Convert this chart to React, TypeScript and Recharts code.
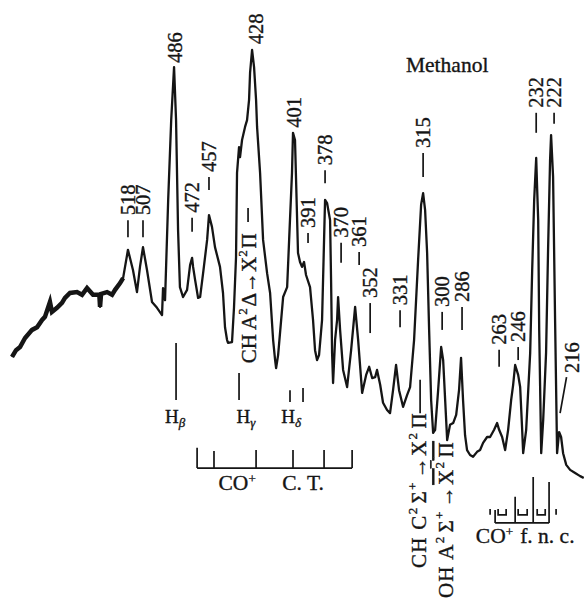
import React from "react"
import { ComposedChart, Line, Scatter, XAxis, YAxis } from "recharts"

const FONT = '"Liberation Serif", "Times New Roman", Times, serif'
const INK = "#151515"
// print on the original is heavy; a hairline outline thickens the glyphs a little
const TEXT_WEIGHT = { stroke: INK, strokeWidth: 0.35 }

// scan of the methanol flame: wavelength (nm, falling to the right) vs relative intensity
const scanNm = [
  599.6, 596.8, 594.0, 590.5, 585.6, 582.1, 578.6, 576.6, 573.1, 571.7, 568.2, 564.7, 562.6,
  559.1, 554.2, 550.7, 547.2, 543.0, 538.6, 538.1, 537.4, 533.2, 529.7, 527.6, 524.1, 522.0,
  518.6, 515.1, 512.3, 510.2, 508.1, 505.3, 501.8, 498.3, 494.8, 494.1, 492.7, 490.5, 488.4,
  486.4, 485.0, 483.6, 482.3, 480.1, 477.3, 475.2, 473.8, 473.1, 471.7, 469.6, 468.2, 466.1,
  463.3, 462.0, 459.9, 457.8, 454.3, 452.2, 450.8, 449.4, 448.7, 445.9, 444.5, 443.1, 442.4,
  441.0, 440.3, 438.9, 436.8, 435.4, 434.0, 433.3, 431.9, 430.5, 429.1, 428.4, 426.3, 424.2,
  421.4, 419.3, 417.2, 415.8, 415.1, 413.7, 410.2, 407.4, 406.0, 404.0, 403.3, 401.9, 399.8,
  398.4, 397.0, 395.6, 394.2, 391.4, 389.3, 387.9, 386.5, 385.1, 383.0, 381.6, 380.9, 379.5,
  377.4, 376.7, 376.0, 375.3, 373.9, 372.5, 371.8, 370.4, 368.3, 365.5, 362.7, 359.9, 357.8,
  355.0, 352.2, 350.1, 348.0, 345.9, 344.6, 342.4, 340.4, 337.6, 335.5, 333.4, 331.3, 329.2,
  326.4, 323.6, 321.5, 318.7, 315.9, 313.8, 312.4, 311.0, 309.6, 308.2, 306.8, 305.4, 304.0,
  301.9, 299.8, 298.4, 297.0, 295.6, 293.6, 291.4, 289.3, 287.3, 285.9, 284.5, 283.1, 281.7,
  279.6, 277.5, 274.7, 272.6, 270.5, 267.7, 265.6, 262.8, 260.7, 259.3, 257.2, 255.1, 253.0,
  250.9, 249.5, 248.1, 246.0, 244.6, 243.2, 242.5, 240.4, 237.6, 236.2, 234.8, 233.4, 232.7,
  232.0, 231.3, 229.9, 228.5, 226.5, 225.1, 223.7, 223.0, 221.6, 220.2, 218.8, 217.4, 216.0,
  214.6, 212.4, 209.7, 206.2, 202.7, 200.2,
]
const scanSignal = [
  31.8, 33.3, 34.0, 36.0, 37.8, 38.4, 40.0, 40.7, 44.0, 41.8, 42.7, 43.8, 44.9,
  46.0, 46.2, 45.6, 47.1, 45.6, 45.6, 42.9, 45.8, 46.2, 45.6, 46.7, 48.2, 49.3,
  55.6, 51.1, 46.2, 51.8, 56.2, 51.1, 44.0, 42.7, 41.1, 47.1, 44.4, 66.7, 84.4,
  96.2, 84.4, 60.0, 47.3, 45.1, 46.7, 52.2, 53.8, 51.8, 48.9, 44.9, 45.1, 50.4,
  57.8, 63.3, 60.7, 56.2, 51.8, 46.0, 38.4, 35.6, 34.9, 35.1, 42.9, 54.0, 72.7,
  78.4, 76.2, 80.0, 82.9, 84.4, 88.9, 94.9, 100.0, 96.2, 88.9, 82.9, 72.7, 57.8,
  50.4, 46.0, 35.6, 31.1, 29.3, 32.2, 45.1, 47.3, 57.8, 72.7, 81.6, 80.0, 54.9,
  52.9, 51.8, 52.9, 50.0, 47.3, 40.0, 33.3, 31.1, 32.2, 40.0, 57.8, 66.7, 66.0,
  62.2, 48.9, 32.7, 26.0, 35.6, 40.0, 45.1, 37.8, 28.9, 25.1, 33.3, 42.9, 35.6,
  23.8, 27.8, 29.6, 27.1, 27.3, 28.9, 25.6, 21.6, 20.0, 19.3, 24.4, 30.0, 24.4,
  20.7, 23.3, 25.1, 35.6, 53.3, 65.6, 68.2, 64.4, 54.9, 37.8, 22.2, 14.9, 15.6,
  24.4, 34.0, 31.1, 22.2, 13.3, 16.7, 17.1, 18.9, 24.4, 31.6, 22.2, 14.4, 11.1,
  10.0, 9.6, 10.7, 11.1, 12.7, 14.0, 14.0, 15.6, 17.1, 15.6, 14.0, 11.1, 15.6,
  22.2, 25.6, 30.0, 27.8, 25.1, 15.6, 10.4, 15.6, 32.7, 51.1, 66.7, 76.0, 68.9,
  62.2, 37.8, 10.4, 17.8, 32.7, 55.6, 75.6, 81.1, 71.8, 40.0, 10.4, 15.1, 14.0,
  10.4, 7.8, 6.7, 6.0, 5.3, 4.9,
]
// the noisy long-wavelength end is drawn heavier, as on the recorder trace
const NOISY_POINTS = 26

// band tags, read where they stand on the trace (foot = lower end of the tick)
const tagText = ["518", "507", "486", "472", "457", "428", "401", "391", "378", "370", "361",
  "352", "331", "315", "300", "286", "263", "246", "232", "222", "216"]
const tagNm = [518.6, 508.1, 485.7, 473.8, 462.0, 429.1, 402.9, 392.8, 380.9, 369.7, 357.1,
  349.4, 328.5, 312.4, 299.1, 285.2, 259.3, 246.0, 233.4, 220.9, 208.3]
const tagFoot = [58.4, 58.4, 97.1, 59.6, 68.9, 101.3, 82.7, 57.1, 70.4, 52.7, 52.2,
  37.1, 38.4, 71.8, 37.8, 37.8, 29.6, 31.1, 81.6, 83.6, 28.2]
// tick length under each number, px (0 = none)
const TAG_DASH = [17, 17, 0, 14, 13, 0, 0, 10, 13, 20, 13, 30, 17, 24, 18, 23, 17, 13, 20, 11, 0]
const TAG_GAP = 5

// Balmer lines
const balmerName = ["β", "γ", "δ"]
const balmerNm = [485.7, 436.1, 404.6]
const balmerTickNm = [485.0, 441.0, 405.4, 396.3]
const balmerTickTop = [34.9, 28.2, 24.4, 24.9]
const balmerTickFoot = [22.2, 22.2, 21.8, 21.8]
const BALMER_TEXT_AT = 17.1

// CO+ comet-tail and first negative band heads
const ctNm = [470.3, 458.5, 429.1, 403.3, 381.6, 362.0]
const ctTop = [11.6, 10.9, 11.1, 11.1, 11.1, 11.1]
const CT_BASE = 7.1
const fncNm = [262.1, 248.1, 235.5, 224.4]
const fncTop = [-2.2, 0.7, 5.1, 4.0]
const FNC_BASE = -5.1

type Pt = { wl: number; I: number | null }

// polylines joined into one series, broken by nulls
const paths = (list: [number, number][][]): Pt[] =>
  list.flatMap((pl) => [...pl.map(([wl, I]) => ({ wl, I })), { wl: pl[pl.length - 1][0], I: null }])

const scan: Pt[] = scanNm.map((wl, i) => ({ wl, I: scanSignal[i] }))
const noisy = scan.slice(0, NOISY_POINTS)

const tags = tagText.map((text, i) => ({ wl: tagNm[i], I: tagFoot[i], text, dash: TAG_DASH[i] }))

const leaders = paths([
  [[434.7, 64.9], [434.7, 61.8]],
  [[314.5, 26.7], [314.5, 19.3]],
  [[216.7, 19.3], [212.2, 27.3]],
  ...balmerTickNm.map((wl, i): [number, number][] => [[wl, balmerTickTop[i]], [wl, balmerTickFoot[i]]]),
])

const brackets = paths([
  [[ctNm[0], CT_BASE], [ctNm[ctNm.length - 1], CT_BASE]],
  ...ctNm.map((wl, i): [number, number][] => [[wl, CT_BASE], [wl, ctTop[i]]]),
  [[fncNm[0], FNC_BASE], [fncNm[fncNm.length - 1], FNC_BASE]],
  ...fncNm.map((wl, i): [number, number][] => [[wl, FNC_BASE], [wl, fncTop[i]]]),
  [[265.6, -2.0], [265.6, -3.3]],
  [[260.0, -2.0], [260.0, -3.3], [254.4, -3.3], [254.4, -2.0]],
  [[246.0, -2.0], [246.0, -3.3], [239.7, -3.3], [239.7, -2.0]],
  [[232.7, -2.0], [232.7, -3.3], [227.1, -3.3], [227.1, -2.0]],
  [[219.5, -2.0], [219.5, -3.3]],
])

const sup = (s: string) => (
  <>
    <tspan dy={-7} fontSize={13}>{s}</tspan>
    <tspan dy={7}>{"\u200a"}</tspan>
  </>
)

// labels set along the scales: horizontal captions and upright (rotated) transitions
const captions = [
  { wl: 295.6, I: 95.1, key: "title" },
  ...balmerName.map((n, i) => ({ wl: balmerNm[i], I: BALMER_TEXT_AT, key: "H" + n })),
  { wl: 441.7, I: 2.2, key: "co-ct" },
  { wl: 396.3, I: 2.2, key: "ct" },
  { wl: 241.1, I: -9.6, key: "fnc" },
]
const transitions = [
  { wl: 434.0, I: 30.4, key: "CH-A" },
  { wl: 315.2, I: -15.1, key: "CH-C" },
  { wl: 296.3, I: -21.8, key: "OH-A" },
]

function Caption(p: any) {
  const { cx, cy, payload } = p
  const k: string = payload.key
  const common = { x: cx, y: cy, fill: INK, fontFamily: FONT, textAnchor: "middle" as const, ...TEXT_WEIGHT }
  if (k === "title") return <text {...common} fontSize={21.5}>Methanol</text>
  if (k.startsWith("H"))
    return (
      <text {...common} fontSize={19}>
        H<tspan dy={4} fontSize={13} fontStyle="italic">{k.slice(1)}</tspan>
      </text>
    )
  if (k === "co-ct") return <text {...common} fontSize={21.5}>CO{sup("+")}</text>
  if (k === "ct") return <text {...common} fontSize={21.5}>C. T.</text>
  return (
    <text {...common} fontSize={21.5}>
      CO{sup("+")} f. n. c.
    </text>
  )
}

function Transition(p: any) {
  const { cx, cy, payload } = p
  const k: string = payload.key
  const props = {
    x: cx,
    y: cy,
    fill: INK,
    fontFamily: FONT,
    fontSize: 21,
    dominantBaseline: "central" as const,
    transform: `rotate(-90 ${cx} ${cy})`,
    ...TEXT_WEIGHT,
  }
  if (k === "CH-A")
    return (
      <text {...props}>
        CH A{sup("2")}Δ→X{sup("2")}Π
      </text>
    )
  if (k === "CH-C")
    return (
      <text {...props} letterSpacing={1.3}>
        CH C{sup("2")}Σ{sup("+")}→X{sup("2")}Π
      </text>
    )
  return (
    <text {...props} letterSpacing={1.3}>
      OH A{sup("2")}Σ{sup("+")}→<tspan style={{ textDecoration: "overline" }}>X{sup("2")}Π</tspan>
    </text>
  )
}

function Tag(p: any) {
  const { cx, cy, payload } = p
  const dash: number = payload.dash
  const ty = dash > 0 ? cy - dash - TAG_GAP : cy
  return (
    <g>
      {dash > 0 && <line x1={cx} x2={cx} y1={cy} y2={cy - dash} stroke={INK} strokeWidth={1.7} />}
      <text
        x={cx}
        y={ty}
        fill={INK}
        fontFamily={FONT}
        fontSize={20.5}
        dominantBaseline="central"
        transform={`rotate(-90 ${cx} ${ty})`}
        {...TEXT_WEIGHT}
      >
        {payload.text}
      </text>
    </g>
  )
}

export default function App() {
  return (
    <div style={{ position: "absolute", left: 0, top: 0, width: 584, height: 601, background: "#fff" }}>
      <ComposedChart width={584} height={601} margin={{ top: 5, right: 0, bottom: 2, left: 0 }}>
        <XAxis hide type="number" dataKey="wl" domain={[200, 608]} reversed />
        <YAxis hide type="number" domain={[-22, 110]} />
        <Line data={scan} dataKey="I" stroke={INK} strokeWidth={2.3} dot={false} activeDot={false}
          strokeLinejoin="round" isAnimationActive={false} />
        <Line data={noisy} dataKey="I" stroke={INK} strokeWidth={4.5} dot={false} activeDot={false}
          isAnimationActive={false} />
        <Line data={leaders} dataKey="I" stroke={INK} strokeWidth={1.7} dot={false} activeDot={false}
          isAnimationActive={false} />
        <Line data={brackets} dataKey="I" stroke={INK} strokeWidth={1.7} dot={false} activeDot={false}
          isAnimationActive={false} />
        <Scatter data={tags} dataKey="I" shape={Tag} isAnimationActive={false} />
        <Scatter data={captions} dataKey="I" shape={Caption} isAnimationActive={false} />
        <Scatter data={transitions} dataKey="I" shape={Transition} isAnimationActive={false} />
      </ComposedChart>
    </div>
  )
}
